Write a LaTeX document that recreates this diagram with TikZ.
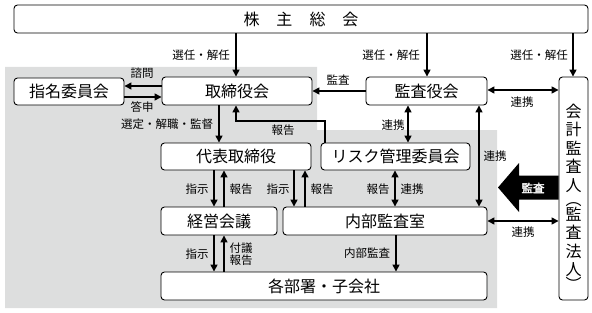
\documentclass[tikz,border=0pt]{standalone}
\usepackage{fontspec}
\newfontfamily\cjk{Noto Sans CJK JP}
\newfontfamily\cjkbold[FakeBold=2.5]{Noto Sans CJK JP}
\usetikzlibrary{arrows.meta}
\definecolor{bggray}{RGB}{221,222,222}
\begin{document}
\begin{tikzpicture}[x=1pt,y=-1pt,
  box/.style={draw, line width=0.9pt, rounded corners=3.5pt, fill=white, inner sep=0pt, font=\cjk\fontsize{16}{18}\selectfont},
  lbl/.style={font=\cjk\fontsize{11.5}{13}\selectfont, inner sep=0pt},
  arr/.style={line width=1.5pt, -{Triangle[length=7pt,width=7pt]}},
  darr/.style={line width=1.5pt, {Triangle[length=7pt,width=7pt]}-{Triangle[length=7pt,width=7pt]}}]
\useasboundingbox (0,0) rectangle (592,313);
\fill[bggray] (5,67) -- (317,67) -- (317,130) -- (497,130) -- (497,308) -- (5,308) -- cycle;
% boxes
\node[box, minimum width=574pt, minimum height=28pt] (kabu) at (301,19) {株\hspace{17pt}主\hspace{17pt}総\hspace{17pt}会};
\node[box, minimum width=110pt, minimum height=27pt] (shimei) at (69,91.5) {指名委員会};
\node[box, minimum width=150pt, minimum height=28pt] (tori) at (237,91) {取締役会};
\node[box, minimum width=121pt, minimum height=28pt] (kansa) at (426.5,91) {監査役会};
\node[box, minimum width=29pt, minimum height=223pt] (kaikei) at (573.5,188.5) {};
\node[font=\cjk\fontsize{16}{18.5}\selectfont, align=center, inner sep=0pt] (kaikeitext) at (573.5,197) {会\\計\\監\\査\\人\\[-4pt]︵\\[-4pt]監\\査\\法\\人\\[-4pt]︶};
\node[box, minimum width=150pt, minimum height=27pt] (daihyo) at (236,156.5) {代表取締役};
\node[box, minimum width=149pt, minimum height=27pt] (risk) at (395.5,156.5) {リスク管理委員会};
\node[box, minimum width=116pt, minimum height=28pt] (keiei) at (219,221) {経営会議};
\node[box, minimum width=204pt, minimum height=28pt] (naibu) at (385,221) {内部監査室};
\node[box, minimum width=326pt, minimum height=28pt] (kakubu) at (324,286) {各部署・子会社};
% arrows
\draw[arr] (236,0 |- kabu.south) -- (236,0 |- tori.north);
\draw[arr] (427,0 |- kabu.south) -- (427,0 |- kansa.north);
\draw[arr] (573,0 |- kabu.south) -- (573,0 |- kaikei.north);
\draw[arr] (tori.west |- 0,86) -- (shimei.east |- 0,86);
\draw[arr] (shimei.east |- 0,97) -- (tori.west |- 0,97);
\draw[arr] (219,0 |- tori.south) -- (219,0 |- daihyo.north);
\draw[arr] (325,0 |- risk.north) -- (325,121) -- (236,121) -- (236,0 |- tori.south);
\draw[arr] (kansa.west |- 0,91) -- (tori.east |- 0,91);
\draw[darr] (kansa.east |- 0,90) -- (kaikei.west |- 0,90);
\draw[darr] (408,0 |- kansa.south) -- (408,0 |- risk.north);
\draw[darr] (479,0 |- naibu.north) -- (479,0 |- kansa.south);
\draw[arr] (214,0 |- daihyo.south) -- (214,0 |- keiei.north);
\draw[arr] (224,0 |- keiei.north) -- (224,0 |- daihyo.south);
\draw[arr] (294,0 |- daihyo.south) -- (294,0 |- naibu.north);
\draw[arr] (305,0 |- naibu.north) -- (305,0 |- daihyo.south);
\draw[darr] (395,0 |- risk.south) -- (395,0 |- naibu.north);
\draw[darr] (naibu.east |- 0,221) -- (kaikei.west |- 0,221);
\draw[arr] (214,0 |- keiei.south) -- (214,0 |- kakubu.north);
\draw[arr] (224,0 |- kakubu.north) -- (224,0 |- keiei.south);
\draw[arr] (396,0 |- naibu.south) -- (396,0 |- kakubu.north);
% big audit arrow
\fill (kaikei.west |- 0,175.5) -- (519,175.5) -- (519,163) -- (498,187.5) -- (519,212) -- (519,199.5) -- (kaikei.west |- 0,199.5) -- cycle;
\node[font=\cjkbold\fontsize{11.5}{13}\selectfont, text=white, inner sep=0pt] (bigaudit) at (533,188) {監査};
% labels
\node[lbl] (l1) at (201,55) {選任・解任};
\node[lbl] (l2) at (391,55) {選任・解任};
\node[lbl] (l3) at (539,55) {選任・解任};
\node[lbl] (l4) at (142,73) {諮問};
\node[lbl] (l5) at (142,107) {答申};
\node[lbl] (l6) at (167,124) {選定・解職・監督};
\node[lbl] (l7) at (283,130) {報告};
\node[lbl] (l8) at (338,80) {監査};
\node[lbl] (l9) at (522,102) {連携};
\node[lbl] (l10) at (393,125) {連携};
\node[lbl] (l11) at (495,156) {連携};
\node[lbl] (l12) at (197,189) {指示};
\node[lbl] (l13) at (241,189) {報告};
\node[lbl] (l14) at (278,189) {指示};
\node[lbl] (l15) at (322,189) {報告};
\node[lbl] (l16) at (378,189) {報告};
\node[lbl] (l17) at (412,189) {連携};
\node[lbl] (l18) at (197,254) {指示};
\node[lbl, align=left, font=\cjk\fontsize{11.5}{12.5}\selectfont] (l19) at (241,254) {付議\\報告};
\node[lbl] (l20) at (367,253) {内部監査};
\node[lbl] (l21) at (523,232) {連携};
\end{tikzpicture}
\end{document}
